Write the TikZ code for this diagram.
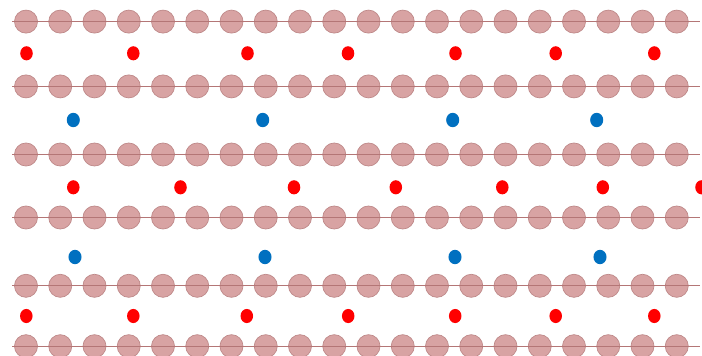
\documentclass[tikz,border=0pt]{standalone}
\usetikzlibrary{shapes.geometric}
\definecolor{atomfill}{RGB}{216,163,163}
\definecolor{atomedge}{RGB}{190,136,136}
\definecolor{rowline}{RGB}{180,118,118}
\definecolor{redc}{RGB}{255,0,0}
\definecolor{bluec}{RGB}{0,112,192}
\tikzset{
  atom/.style={circle,fill=atomfill,draw=atomedge,line width=0.5pt,minimum size=17.3pt,inner sep=0pt},
  rowl/.style={draw=rowline,line width=0.55pt},
  redion/.style={ellipse,fill=redc,draw=none,minimum width=9.4pt,minimum height=10.6pt,inner sep=0pt},
  blueion/.style={ellipse,fill=bluec,draw=none,minimum width=9.8pt,minimum height=10.8pt,inner sep=0pt}
}
\begin{document}
\begin{tikzpicture}[x=0.75pt,y=-0.75pt]
\path[fill=white] (0,0) rectangle (702,356);
\useasboundingbox (0,0) rectangle (702,356);
\begin{scope}
\clip (0,0) rectangle (702,356);
\foreach \yy [count=\r] in {21.6,86.4,154.5,217.5,285.8,346.2} {
  \coordinate (L\r) at (12,\yy);
  \coordinate (R\r) at (700,\yy);
  \foreach \k in {0,...,19}
    \node[atom] (a\r-\k) at ({26+34.25*\k},\yy) {};
  \draw[rowl] (L\r) -- (R\r);
}
\foreach \xx [count=\i] in {26.5,133.3,247.5,348,455.5,555.7,654.3}
  \node[redion] (ra\i) at (\xx,53.3) {};
\foreach \xx [count=\i] in {73.3,180.5,294,395.8,502.3,602.8,701.5}
  \node[redion] (rb\i) at (\xx,187.3) {};
\foreach \xx [count=\i] in {26.3,133.3,246.8,348.2,455.2,555.7,654.3}
  \node[redion] (rc\i) at (\xx,316) {};
\foreach \xx [count=\i] in {73.3,262.7,452.7,596.7}
  \node[blueion] (ba\i) at (\xx,120) {};
\foreach \xx [count=\i] in {75,265,455,600}
  \node[blueion] (bb\i) at (\xx,257) {};
\end{scope}
\end{tikzpicture}
\end{document}
